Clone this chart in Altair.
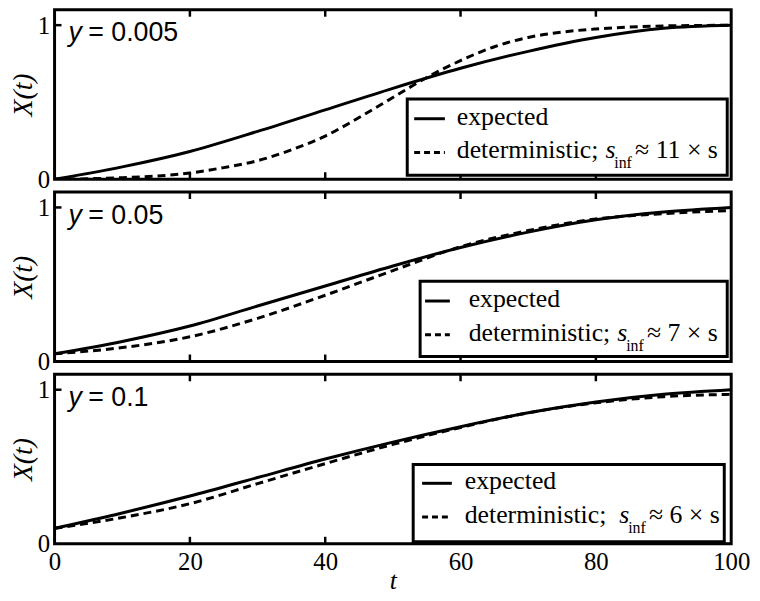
import altair as alt
import pandas as pd

# ---------------- data ----------------
t_coarse = [0, 10, 20, 30, 40, 50, 60, 70, 80, 90, 100]
t_fine = [0, 5, 10, 15, 20, 25, 30, 35, 40, 45, 50, 55, 60, 65, 70, 75, 80, 85, 90, 95, 100]

expected_1 = [0.0, 0.08, 0.18, 0.31, 0.45, 0.59, 0.72, 0.83, 0.92, 0.98, 1.0]
determ_1 = [0.0, 0.003, 0.01, 0.02, 0.04, 0.075, 0.12, 0.19, 0.28, 0.40, 0.53,
            0.66, 0.77, 0.86, 0.92, 0.955, 0.975, 0.988, 0.995, 0.998, 1.0]
expected_2 = [0.05, 0.13, 0.23, 0.36, 0.49, 0.62, 0.74, 0.84, 0.92, 0.97, 1.0]
determ_2 = [0.05, 0.09, 0.16, 0.28, 0.43, 0.59, 0.745, 0.85, 0.925, 0.96, 0.98]
expected_3 = [0.10, 0.20, 0.31, 0.43, 0.55, 0.66, 0.76, 0.85, 0.92, 0.97, 1.0]
determ_3 = [0.10, 0.17, 0.26, 0.39, 0.52, 0.645, 0.755, 0.85, 0.915, 0.955, 0.97]

y_values = ["0.005", "0.05", "0.1"]
s_factors = ["11", "7", "6"]
legend_labels = ["expected", "deterministic;"]
x_tick_values = [0, 20, 40, 60, 80, 100]
y_tick_values = [0, 1]
inner_x_ticks = [20, 40, 60, 80]
inner_y_ticks = [1]

# ---------------- styling / layout ----------------
W, H = 683, 171
SERIF = "Liberation Serif"
SANS = "Liberation Sans"
LEG_FS = 26

# legend geometry per panel (panel pixel coords)
legend_geo = [
    dict(box=(356, 90, 679, 167), line=(363, 394), text=406, s=556),
    dict(box=(369, 90, 679, 166), line=(374, 399), text=418, s=568),
    dict(box=(362, 91, 676, 169), line=(371, 401), text=414, s=570),
]

xscale = alt.Scale(domain=[0, 100], nice=False, zero=False)
yscale = alt.Scale(domain=[0, 1.1], nice=False, zero=False)

yaxis = alt.Axis(values=y_tick_values, title="X(t)", grid=False, domain=False, ticks=False,
                 format="d",
                 labelFont=SERIF, labelFontSize=25, labelColor="black", labelPadding=5,
                 titleFont=SERIF, titleFontSize=28, titleFontStyle="italic",
                 titleFontWeight="normal", titleColor="black", titlePadding=0)


def panel(i, t_exp, exp, t_det, det, bottom):
    if bottom:
        xaxis = alt.Axis(values=x_tick_values, title="t", grid=False, domain=False, ticks=False,
                         labelFont=SERIF, labelFontSize=25, labelColor="black", labelPadding=6,
                         labelFlush=False, format="d",
                         titleFont=SERIF, titleFontSize=26, titleFontStyle="italic",
                         titleFontWeight="normal", titleColor="black", titlePadding=-7)
    else:
        xaxis = None
    X = lambda f: alt.X(f, scale=xscale, axis=xaxis)
    Y = lambda f: alt.Y(f, scale=yscale, axis=yaxis)

    d_exp = pd.DataFrame({"t": t_exp, "X": exp})
    d_det = pd.DataFrame({"t": t_det, "X": det})

    solid = alt.Chart(d_exp).mark_line(color="black", strokeWidth=3, interpolate="monotone",
                                       clip=True).encode(x=X("t:Q"), y=Y("X:Q"))
    dashed = alt.Chart(d_det).mark_line(color="black", strokeWidth=3, interpolate="monotone",
                                        strokeDash=[8, 5], clip=True).encode(x=X("t:Q"), y=Y("X:Q"))

    dt = pd.DataFrame({"t": inner_x_ticks})
    tb = alt.Chart(dt).mark_rule(color="black", strokeWidth=2.5).encode(
        x=X("t:Q"), y=alt.value(H), y2=alt.value(H - 7))
    tt = alt.Chart(dt).mark_rule(color="black", strokeWidth=2.5).encode(
        x=X("t:Q"), y=alt.value(0), y2=alt.value(7))
    dy = pd.DataFrame({"X": inner_y_ticks})
    ty = alt.Chart(dy).mark_rule(color="black", strokeWidth=2.5).encode(
        y=Y("X:Q"), x=alt.value(0), x2=alt.value(7))

    one = alt.Chart(pd.DataFrame({"k": [0]}))
    g = legend_geo[i]
    bx0, by0, bx1, by1 = g["box"]
    lx0, lx1 = g["line"]
    box = one.mark_rect(fill="white", stroke="black", strokeWidth=3).encode(
        x=alt.value(bx0), x2=alt.value(bx1), y=alt.value(by0), y2=alt.value(by1))
    l1 = one.mark_rule(color="black", strokeWidth=3).encode(
        x=alt.value(lx0), x2=alt.value(lx1), y=alt.value(110))
    l2 = one.mark_rule(color="black", strokeWidth=3, strokeDash=[6, 4]).encode(
        x=alt.value(lx0), x2=alt.value(lx1), y=alt.value(144))

    def txt(s, x, y, size=LEG_FS, font=SERIF, style="normal"):
        return one.mark_text(font=font, fontSize=size, fontStyle=style, align="left",
                             baseline="alphabetic", color="black").encode(
            x=alt.value(x), y=alt.value(y), text=alt.value(s))

    t1 = txt(legend_labels[0], g["text"], 116)
    t2 = txt(legend_labels[1], g["text"], 150)
    t3 = txt("s", g["s"], 150, style="italic")
    t4 = txt("inf", g["s"] + 9, 160, size=16)
    t5 = txt("\u2248 " + s_factors[i] + " \u00d7 s", g["s"] + 30, 150)

    p1 = txt("y", 14, 32, size=27, font=SANS, style="italic")
    p2 = txt("= " + y_values[i], 34, 32, size=27, font=SANS)

    return alt.layer(solid, dashed, tb, tt, ty, box, l1, l2, t1, t2, t3, t4, t5, p1, p2).properties(
        width=W, height=H)


c1 = panel(0, t_coarse, expected_1, t_fine, determ_1, False)
c2 = panel(1, t_coarse, expected_2, t_coarse, determ_2, False)
c3 = panel(2, t_coarse, expected_3, t_coarse, determ_3, True)

chart = alt.vconcat(c1, c2, c3, spacing=13, bounds="flush").configure_view(
    stroke="black", strokeWidth=3).properties(
    padding={"left": 0, "top": -4, "right": 0, "bottom": 0}, background="white")

chart.save("out.html", embed_options={"renderer": "svg", "actions": False})
